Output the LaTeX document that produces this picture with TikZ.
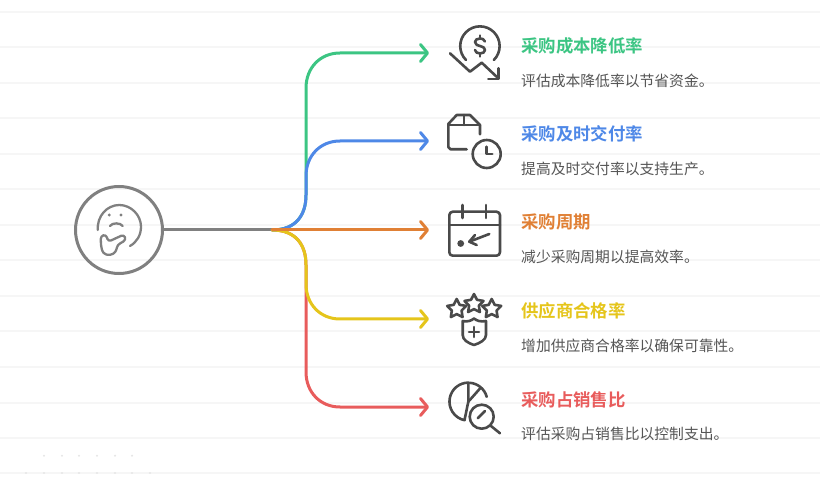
\documentclass[tikz,border=0pt]{standalone}
\usepackage{fontspec}
\usetikzlibrary{arrows.meta,shapes.geometric}
\setmainfont{Noto Sans CJK SC}
\newfontfamily\cjkbold{Noto Sans CJK SC Bold}
\definecolor{cgreen}{HTML}{3CC583}
\definecolor{cblue}{HTML}{4E88E7}
\definecolor{corange}{HTML}{E08035}
\definecolor{cyellow}{HTML}{E5C51B}
\definecolor{cred}{HTML}{E85C5C}
\definecolor{cgray}{HTML}{808080}
\definecolor{cicon}{HTML}{4A4A4A}
\definecolor{ctext}{HTML}{555555}
\definecolor{cbg}{HTML}{F6F6F6}
\definecolor{cdot}{HTML}{E6E6E6}
\tikzset{
  conn/.style={line width=3pt,-{Straight Barb[length=7pt,width=17pt,round]},line cap=round},
  stem/.style={line width=3pt},
  iconline/.style={draw=cicon,line width=2.6pt,line cap=round,line join=round},
  hubline/.style={draw=cgray,line width=2.3pt,line cap=round,line join=round},
  titletext/.style={anchor=west,inner sep=0pt,font=\cjkbold\fontsize{17.4pt}{19pt}\selectfont},
  desctext/.style={anchor=west,inner sep=0pt,text=ctext,font=\fontsize{14.8pt}{16pt}\selectfont},
  starshape/.style={star,star points=5,star point ratio=1.95,draw=cicon,line width=2.6pt,line join=round,minimum size=20pt,inner sep=0pt},
}
\begin{document}
\begin{tikzpicture}[x=1pt,y=-1pt]
\useasboundingbox (0,0) rectangle (820,481);
% background
\foreach \yy in {12,47.5,83,118.5,154,189.5,225,260.5,296,331.5,367,402.5,438,473}
  \draw[cbg,line width=2pt] (0,\yy) -- (820,\yy);
\foreach \xx in {44,62,79,97,115,132} \fill[cdot] (\xx,455.7) circle (1.2pt);
\foreach \xx in {26,44,62,79,97,115,132,150} \fill[cdot] (\xx,473) circle (1.2pt);
% hub
\node[circle,draw=cgray,line width=3pt,minimum size=87pt,inner sep=0pt] (hub) at (119,230) {};
\coordinate (fork) at (272,230);
\coordinate (e1) at (429,53);
\coordinate (e2) at (429,141);
\coordinate (e3) at (429,230);
\coordinate (e4) at (429,319);
\coordinate (e5) at (429,407);
% connectors
\draw[stem,cgray] (hub.east) -- (fork);
\draw[conn,cred] (fork) .. controls (296,230) and (306,245) .. (306,265) -- (306,372) .. controls (306,392) and (320,407) .. (340,407) -- (e5);
\draw[conn,cgreen] (fork) .. controls (296,230) and (306,215) .. (306,195) -- (306,88) .. controls (306,68) and (320,53) .. (340,53) -- (e1);
\draw[conn,cblue] (fork) .. controls (296,230) and (306,215) .. (306,195) -- (306,176) .. controls (306,156) and (320,141) .. (340,141) -- (e2);
\draw[conn,cyellow] (fork) .. controls (296,230) and (306,245) .. (306,265) -- (306,284) .. controls (306,304) and (320,319) .. (340,319) -- (e4);
\draw[conn,corange] (fork) -- (e3);
% hub icon
\draw[hubline] (97.7,230) .. controls (97,216) and (107,205) .. (119.3,205) .. controls (131,205) and (141,215) .. (141,226.7) .. controls (141,235) and (137,242) .. (130,246);
\fill[cgray] (109.3,215) circle (1.6pt) (121,215) circle (1.6pt);
\draw[hubline] (110,226) .. controls (112,222.5) and (120.5,222.5) .. (122.7,226);
\draw[hubline,rounded corners=3pt] (101,246) -- (100.7,236) -- (106,234.5) -- (108.3,241.7) -- (124,234.5) -- (126,240) -- (117.3,245) -- (116,252) -- (110,255.5) -- (103,253.5) -- cycle;
% icon 1
\draw[iconline] (466,60) arc[start angle=225,end angle=-45,radius=19.7pt];
\draw[iconline] (485,41.5) .. controls (484,39) and (482,38.5) .. (480,38.5) .. controls (477,38.5) and (475,40) .. (475,42) .. controls (475,45) and (478,45.5) .. (480,46) .. controls (483,46.5) and (485,48) .. (485,50) .. controls (485,52) and (483,53.5) .. (480,53.5) .. controls (477,53.5) and (475.5,52) .. (475,50);
\draw[iconline] (480,35.5) -- (480,38.5) (480,53.5) -- (480,56.5);
\draw[iconline] (450,53.3) -- (470,71.7) -- (481.7,62.7) -- (498.3,78.3);
\draw[iconline] (498.5,68.3) -- (498.5,79) -- (488.3,79);
% icon 2
\draw[iconline] (480,134.3) -- (480,125) -- (470,115) -- (456.7,115) -- (448.3,124) -- (448.3,147) -- (450.5,149.3) -- (466.7,149.3);
\draw[iconline] (448.3,125) -- (480,125) (464,115) -- (464,125);
\draw[iconline] (486.7,154) circle (14pt);
\draw[iconline] (486.7,146.7) -- (486.7,154) -- (492.3,154);
% icon 3
\draw[iconline,rounded corners=3.5pt] (449.3,211.7) rectangle (500,255.7);
\draw[iconline] (449.3,225) -- (500,225);
\draw[iconline] (462.7,205) -- (462.7,218) (486,205) -- (486,218);
\fill[cicon] (460.7,243.5) circle (3.4pt);
\draw[iconline] (489.3,234) -- (469.3,241.7);
\draw[iconline] (475,235) -- (469.3,241.7) -- (476.7,245);
% icon 4
\node[starshape] (s1) at (456.7,309) {};
\node[starshape] (s3) at (491.7,309) {};
\node[starshape] (s2) at (474,304) {};
\draw[iconline] (462.7,321) .. controls (467,322) and (471,321) .. (474,318.5) .. controls (477,321) and (481,322) .. (486,321) -- (486,335) .. controls (486,340) and (480,343) .. (474,345) .. controls (468,343) and (462.7,340) .. (462.7,335) -- cycle;
\draw[iconline] (474,327) -- (474,337) (469,332) -- (479,332);
% icon 5
\draw[iconline] (464.5,420.2) arc[start angle=258,end angle=90,radius=19pt] -- (468.3,401.7) -- cycle;
\draw[iconline] (469.7,382.8) arc[start angle=86,end angle=15,radius=19pt];
\draw[iconline] (468.3,401.7) -- (480,388.5);
\draw[iconline] (481.7,416.7) circle (12pt);
\draw[iconline] (491,426) -- (500,433.3);
\draw[iconline] (477.7,418.3) -- (485,411);
% texts
\node[titletext,text=cgreen] (t1) at (521,46) {采购成本降低率};
\node[desctext] (d1) at (521,81) {评估成本降低率以节省资金。};
\node[titletext,text=cblue] (t2) at (521,134) {采购及时交付率};
\node[desctext] (d2) at (521,169) {提高及时交付率以支持生产。};
\node[titletext,text=corange] (t3) at (521,222) {采购周期};
\node[desctext] (d3) at (521,257) {减少采购周期以提高效率。};
\node[titletext,text=cyellow] (t4) at (521,311) {供应商合格率};
\node[desctext] (d4) at (521,346) {增加供应商合格率以确保可靠性。};
\node[titletext,text=cred] (t5) at (521,400) {采购占销售比};
\node[desctext] (d5) at (521,434) {评估采购占销售比以控制支出。};
\end{tikzpicture}
\end{document}
